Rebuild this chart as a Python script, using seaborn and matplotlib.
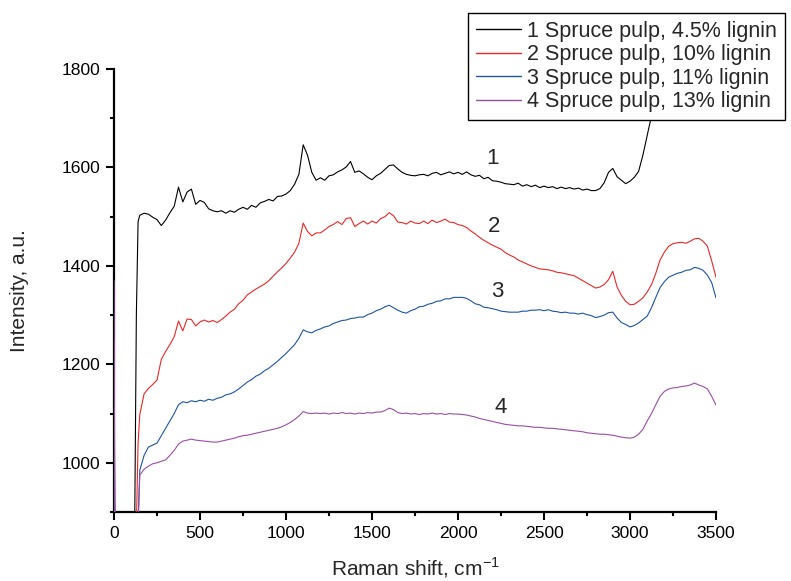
import matplotlib
matplotlib.use("Agg")
import matplotlib.pyplot as plt
from matplotlib.ticker import MultipleLocator
import numpy as np
import pandas as pd
import seaborn as sns

# ---------------- data ----------------
shift = [0, 5, 120, 130, 140, 150] + list(range(175, 3501, 25))

spruce_45 = (
    [1000, 860, 860, 1300, 1490, 1503]
    + [1507, 1505, 1499, 1494, 1482, 1493, 1508, 1521, 1560, 1530, 1550, 1556, 1525]
    + [1533, 1529, 1516, 1512, 1510, 1512, 1507, 1512, 1509, 1515, 1519, 1515, 1523, 1519, 1528, 1531, 1535, 1532, 1541, 1542]
    + [1546, 1553, 1566, 1586, 1646, 1625, 1590, 1574, 1579, 1574, 1583, 1585, 1591, 1595, 1601, 1612, 1590, 1593, 1587, 1580]
    + [1575, 1583, 1588, 1596, 1604, 1605, 1597, 1590, 1586, 1584, 1583, 1585, 1586, 1583, 1588, 1590, 1585, 1588, 1591, 1587]
    + [1590, 1586, 1591, 1585, 1582, 1584, 1577, 1580, 1573, 1572, 1570, 1567, 1566, 1565, 1568, 1562, 1565, 1561, 1564, 1559]
    + [1562, 1559, 1561, 1557, 1560, 1557, 1559, 1556, 1558, 1554, 1556, 1553, 1553, 1557, 1569, 1590, 1598, 1581, 1574, 1567]
    + [1572, 1580, 1592, 1625, 1665, 1705, 1740, 1770, 1800, 1830, 1860, 1890, 1920, 1945, 1970, 1990, 2010, 2025, 2040, 2050, 2060]
)

spruce_10 = (
    [1250, 860, 860, 870, 1040, 1098]
    + [1140, 1151, 1159, 1168, 1210, 1226, 1240, 1256, 1288, 1268, 1292, 1291, 1278]
    + [1286, 1290, 1286, 1289, 1285, 1291, 1298, 1306, 1312, 1323, 1330, 1341, 1347, 1353, 1358, 1363, 1370, 1379, 1388, 1396]
    + [1405, 1416, 1428, 1446, 1487, 1470, 1461, 1467, 1467, 1473, 1480, 1484, 1490, 1484, 1496, 1498, 1480, 1486, 1491, 1485]
    + [1491, 1487, 1496, 1500, 1508, 1502, 1489, 1488, 1485, 1491, 1487, 1486, 1491, 1486, 1493, 1488, 1491, 1495, 1489, 1488]
    + [1484, 1482, 1478, 1471, 1465, 1458, 1452, 1447, 1442, 1438, 1434, 1427, 1422, 1418, 1412, 1408, 1404, 1400, 1397, 1394]
    + [1393, 1392, 1390, 1387, 1386, 1384, 1382, 1380, 1375, 1370, 1365, 1360, 1355, 1357, 1362, 1372, 1389, 1357, 1340, 1328]
    + [1321, 1322, 1328, 1335, 1347, 1362, 1385, 1412, 1428, 1440, 1445, 1447, 1448, 1446, 1450, 1455, 1456, 1450, 1440, 1410, 1377]
)

spruce_11 = (
    [1200, 860, 860, 860, 880, 985]
    + [1015, 1032, 1036, 1040, 1055, 1070, 1085, 1100, 1118, 1124, 1122, 1126, 1124]
    + [1127, 1125, 1129, 1127, 1131, 1133, 1138, 1140, 1144, 1150, 1157, 1164, 1169, 1176, 1180, 1187, 1192, 1199, 1206, 1214]
    + [1222, 1231, 1240, 1253, 1270, 1266, 1264, 1269, 1272, 1276, 1278, 1283, 1286, 1289, 1290, 1293, 1294, 1296, 1296, 1301]
    + [1304, 1309, 1312, 1317, 1320, 1315, 1310, 1306, 1304, 1309, 1312, 1317, 1318, 1322, 1324, 1328, 1329, 1333, 1333, 1336]
    + [1336, 1336, 1334, 1329, 1323, 1321, 1316, 1315, 1313, 1311, 1308, 1307, 1306, 1306, 1306, 1308, 1308, 1310, 1310, 1311]
    + [1309, 1311, 1308, 1307, 1305, 1306, 1304, 1304, 1302, 1304, 1301, 1299, 1295, 1297, 1300, 1305, 1306, 1294, 1285, 1281]
    + [1276, 1279, 1284, 1291, 1298, 1315, 1336, 1356, 1368, 1377, 1381, 1385, 1387, 1391, 1392, 1397, 1395, 1391, 1381, 1366, 1335]
)

spruce_13 = (
    [1370, 860, 860, 860, 870, 975]
    + [987, 993, 998, 1000, 1003, 1006, 1015, 1025, 1038, 1044, 1046, 1048, 1046]
    + [1045, 1044, 1043, 1042, 1042, 1044, 1046, 1048, 1050, 1053, 1055, 1056, 1058, 1060, 1062, 1064, 1066, 1068, 1070, 1073]
    + [1077, 1082, 1088, 1095, 1104, 1101, 1100, 1101, 1100, 1101, 1099, 1101, 1100, 1102, 1100, 1101, 1099, 1101, 1100, 1102]
    + [1101, 1103, 1103, 1106, 1111, 1108, 1102, 1100, 1101, 1099, 1100, 1098, 1100, 1099, 1101, 1099, 1100, 1098, 1100, 1099]
    + [1099, 1098, 1097, 1095, 1093, 1090, 1088, 1086, 1084, 1082, 1080, 1078, 1077, 1076, 1075, 1075, 1074, 1073, 1072, 1072]
    + [1071, 1070, 1070, 1069, 1068, 1067, 1066, 1065, 1064, 1063, 1061, 1060, 1059, 1058, 1058, 1057, 1056, 1054, 1052, 1051]
    + [1050, 1052, 1058, 1068, 1085, 1100, 1118, 1135, 1145, 1150, 1152, 1153, 1155, 1156, 1158, 1162, 1158, 1155, 1150, 1135, 1117]
)

labels = ["1 Spruce pulp, 4.5% lignin", "2 Spruce pulp, 10% lignin",
          "3 Spruce pulp, 11% lignin", "4 Spruce pulp, 13% lignin"]
colors = ["#000000", "#EE2626", "#1E54A6", "#9A4EA6"]
curve_tags = ["1", "2", "3", "4"]
tag_x = [2200, 2210, 2230, 2250]
tag_y = [1618, 1480, 1348, 1113]

x_ticks = [0, 500, 1000, 1500, 2000, 2500, 3000, 3500]
y_ticks = [1000, 1200, 1400, 1600, 1800]

# ---------------- build table ----------------
series = [spruce_45, spruce_10, spruce_11, spruce_13]
frames = []
for lab, vals in zip(labels, series):
    frames.append(pd.DataFrame({"shift": shift, "intensity": vals, "sample": lab}))
df = pd.concat(frames, ignore_index=True)

# ---------------- plot ----------------
sns.set_style("ticks")
plt.rcParams["font.family"] = ["Liberation Sans", "DejaVu Sans"]

fig = plt.figure(figsize=(7.91, 5.81), dpi=100)
ax = fig.add_axes([114 / 791, 1 - 512 / 581, 602 / 791, 443 / 581])

sns.lineplot(data=df, x="shift", y="intensity", hue="sample",
             palette=dict(zip(labels, colors)), estimator=None, sort=False,
             linewidth=0.8, ax=ax, legend=True, zorder=3)

ax.set_xlim(0, 3500)
ax.set_ylim(900, 1800)
ax.set_xticks(x_ticks)
ax.set_yticks(y_ticks)
ax.xaxis.set_minor_locator(MultipleLocator(250))
ax.yaxis.set_minor_locator(MultipleLocator(100))
sns.despine(ax=ax)
for s in ["left", "bottom"]:
    ax.spines[s].set_linewidth(1.6)
    ax.spines[s].set_color("black")
    ax.spines[s].set_zorder(2.5)
ax.tick_params(which="major", direction="out", length=6, width=1.5,
               labelsize=12.6, pad=4, colors="black")
ax.tick_params(which="minor", direction="out", length=3, width=1.5, colors="black")

ax.set_xlabel("Raman shift, cm$^{\\mathregular{-1}}$", fontsize=15)
ax.set_ylabel("Intensity, a.u.", fontsize=15)
ax.xaxis.set_label_coords(0.5, -0.098)
ax.yaxis.set_label_coords(-0.142, 0.5)

for t, xx, yy in zip(curve_tags, tag_x, tag_y):
    ax.text(xx, yy, t, fontsize=16, ha="center", va="center")

handles, labs = ax.get_legend_handles_labels()
ax.get_legend().remove()
leg = fig.legend(handles, labs, loc="upper left",
                 bbox_to_anchor=(468 / 791, 1 - 13 / 581), borderaxespad=0,
                 fontsize=15.5, frameon=True, fancybox=False, framealpha=1,
                 edgecolor="black", handlelength=2.1, handletextpad=0.3,
                 labelspacing=0.12, borderpad=0.35)
leg.get_frame().set_linewidth(1.0)
for h in leg.get_lines():
    h.set_linewidth(1.0)

fig.savefig("out.png", dpi=100)
